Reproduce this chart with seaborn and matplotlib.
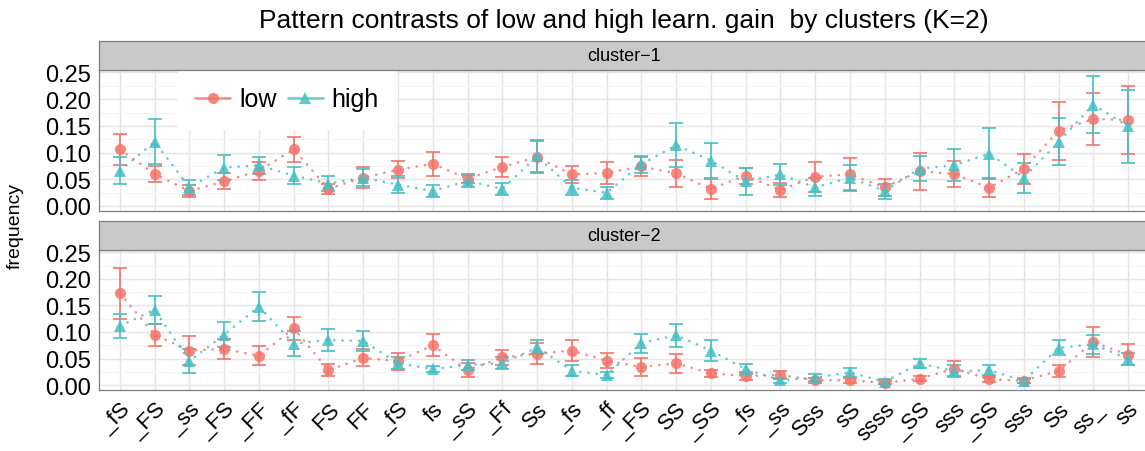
import matplotlib
matplotlib.use("Agg")
import matplotlib.pyplot as plt
import seaborn as sns
import pandas as pd
from matplotlib.lines import Line2D
from matplotlib.ticker import MultipleLocator, FormatStrFormatter

# patterns on the x axis (same order in both clusters)
padroes = ["_fS", "_FS", "_ss", "_FS", "_FF", "_fF", "FS", "FF", "_fS", "fs",
           "_sS", "_Ff", "Ss", "_fs", "_ff", "_FS", "SS", "_SS", "_fs", "_ss",
           "Sss", "sS", "ssss", "_SS", "sss", "_SS", "sss", "Ss", "ss_", "ss"]

# cluster-1: mean frequency and half error bar
low_c1 = [0.106, 0.060, 0.028, 0.046, 0.066, 0.106, 0.032, 0.053, 0.068, 0.079,
          0.051, 0.073, 0.092, 0.059, 0.062, 0.074, 0.061, 0.032, 0.057, 0.030,
          0.055, 0.059, 0.035, 0.065, 0.060, 0.034, 0.070, 0.141, 0.163, 0.161]
low_c1_err = [0.029, 0.015, 0.011, 0.015, 0.017, 0.023, 0.010, 0.020, 0.016, 0.022,
              0.008, 0.019, 0.030, 0.016, 0.020, 0.018, 0.025, 0.018, 0.015, 0.013,
              0.028, 0.030, 0.016, 0.035, 0.024, 0.018, 0.028, 0.054, 0.049, 0.064]
high_c1 = [0.066, 0.120, 0.035, 0.072, 0.076, 0.057, 0.042, 0.053, 0.040, 0.028,
           0.047, 0.032, 0.093, 0.034, 0.025, 0.078, 0.114, 0.085, 0.046, 0.059,
           0.035, 0.053, 0.028, 0.070, 0.076, 0.098, 0.053, 0.120, 0.190, 0.149]
high_c1_err = [0.025, 0.042, 0.014, 0.024, 0.016, 0.016, 0.014, 0.016, 0.016, 0.012,
               0.011, 0.011, 0.030, 0.014, 0.011, 0.016, 0.041, 0.033, 0.026, 0.019,
               0.017, 0.023, 0.014, 0.024, 0.030, 0.048, 0.028, 0.044, 0.054, 0.068]

# cluster-2
low_c2 = [0.173, 0.095, 0.065, 0.068, 0.055, 0.107, 0.028, 0.051, 0.045, 0.075,
          0.028, 0.052, 0.059, 0.065, 0.046, 0.034, 0.041, 0.022, 0.017, 0.019,
          0.009, 0.009, 0.004, 0.012, 0.031, 0.011, 0.008, 0.027, 0.081, 0.057]
low_c2_err = [0.048, 0.021, 0.027, 0.018, 0.018, 0.022, 0.011, 0.016, 0.016, 0.021,
              0.013, 0.014, 0.020, 0.019, 0.014, 0.017, 0.018, 0.007, 0.007, 0.007,
              0.005, 0.005, 0.003, 0.005, 0.014, 0.005, 0.004, 0.011, 0.029, 0.020]
high_c2 = [0.111, 0.142, 0.045, 0.095, 0.148, 0.078, 0.085, 0.083, 0.041, 0.030,
           0.038, 0.041, 0.071, 0.027, 0.019, 0.079, 0.094, 0.065, 0.030, 0.009,
           0.014, 0.024, 0.006, 0.041, 0.026, 0.028, 0.008, 0.070, 0.077, 0.049]
high_c2_err = [0.022, 0.026, 0.022, 0.023, 0.027, 0.024, 0.020, 0.019, 0.011, 0.006,
               0.009, 0.011, 0.013, 0.010, 0.006, 0.018, 0.022, 0.019, 0.009, 0.005,
               0.006, 0.009, 0.005, 0.009, 0.011, 0.010, 0.005, 0.014, 0.018, 0.012]

clusters = [
    ("cluster\u22121", low_c1, low_c1_err, high_c1, high_c1_err),
    ("cluster\u22122", low_c2, low_c2_err, high_c2, high_c2_err),
]

sns.set_theme(style="whitegrid")
plt.rcParams["font.family"] = ["Liberation Sans", "DejaVu Sans"]
plt.rcParams["text.color"] = "black"
plt.rcParams["xtick.color"] = "black"
plt.rcParams["ytick.color"] = "black"

CORES = {"low": "#F5736A", "high": "#45C0C4"}
MARCAS = {"low": "o", "high": "^"}
ALFA = 0.85

fig = plt.figure(figsize=(11.45, 4.52), dpi=100)

# panel / strip positions in figure fractions
esq, larg = 99 / 1145, 1050 / 1145
paineis = [(1 - 211.8 / 452, 141 / 452), (1 - 390.8 / 452, 140 / 452)]
faixas = [(1 - 70.8 / 452, 28.5 / 452), (1 - 250.8 / 452, 28.5 / 452)]

for i, (nome, lo, lo_e, hi, hi_e) in enumerate(clusters):
    ax = fig.add_axes([esq, paineis[i][0], larg, paineis[i][1]])
    pos = list(range(len(padroes)))
    df = pd.DataFrame({
        "pos": pos + pos,
        "freq": lo + hi,
        "err": lo_e + hi_e,
        "grupo": ["low"] * len(pos) + ["high"] * len(pos),
    })

    for g in ["low", "high"]:
        d = df[df["grupo"] == g]
        ax.errorbar(d["pos"], d["freq"], yerr=d["err"], fmt="none",
                    ecolor=CORES[g], elinewidth=1.4, capsize=5, capthick=1.4,
                    alpha=ALFA, zorder=3)

    sns.lineplot(data=df, x="pos", y="freq", hue="grupo", style="grupo",
                 palette=CORES, markers=MARCAS,
                 dashes={"low": (0.1, 3.2), "high": (0.1, 3.2)},
                 linewidth=1.8, markersize=8, markeredgewidth=0,
                 dash_capstyle="round", alpha=ALFA, legend=False, ax=ax,
                 zorder=4)

    ax.set_xlim(-0.6, len(padroes) - 0.4)
    ax.set_ylim(-0.009, 0.255)
    ax.yaxis.set_major_locator(MultipleLocator(0.05))
    ax.yaxis.set_minor_locator(MultipleLocator(0.025))
    ax.yaxis.set_major_formatter(FormatStrFormatter("%.2f"))
    ax.set_xticks(pos)
    ax.grid(which="major", color="#E5E5E5", linewidth=1.0)
    ax.grid(which="minor", axis="y", color="#F4F4F4", linewidth=0.8)
    ax.set_axisbelow(True)
    for s in ax.spines.values():
        s.set_color("#7F7F7F")
        s.set_linewidth(0.9)
    ax.tick_params(axis="both", which="major", length=4, width=1,
                   color="#333333", labelsize=17, pad=2)
    ax.tick_params(axis="y", which="minor", length=0)
    ax.set_xlabel("")
    ax.set_ylabel("")
    if i == 0:
        ax.tick_params(axis="x", length=0, labelbottom=False)
        alcas = [Line2D([], [], color=CORES[g], marker=MARCAS[g], alpha=ALFA,
                        markersize=8, linewidth=1.8, markeredgewidth=0)
                 for g in ["low", "high"]]
        leg = ax.legend(alcas, ["low", "high"], loc="upper left",
                        bbox_to_anchor=(0.075, 1.0), ncol=2, fontsize=18,
                        frameon=True, facecolor="white", edgecolor="white",
                        framealpha=1, fancybox=False, borderpad=0.7,
                        handlelength=1.4, handletextpad=0.35, columnspacing=0.45,
                        borderaxespad=0)
        leg.set_zorder(10)
    else:
        ax.set_xticklabels(padroes, rotation=45, ha="right",
                           rotation_mode="anchor", fontsize=16)

    # facet strip
    fx = fig.add_axes([esq, faixas[i][0], larg, faixas[i][1]])
    fx.set_facecolor("#C9C9C9")
    fx.set_xticks([])
    fx.set_yticks([])
    fx.grid(False)
    for s in fx.spines.values():
        s.set_color("#7F7F7F")
        s.set_linewidth(0.9)
    fx.text(0.5, 0.5, nome, ha="center", va="center", fontsize=13,
            color="black", transform=fx.transAxes)

fig.text(esq + larg / 2, 1 - 21 / 452,
         "Pattern contrasts of low and high learn. gain  by clusters (K=2)",
         ha="center", va="center", fontsize=19, color="black")
fig.text(15 / 1145, 0.5, "frequency", rotation=90, ha="center", va="center",
         fontsize=14, color="black")

fig.savefig("out.png", dpi=100)
